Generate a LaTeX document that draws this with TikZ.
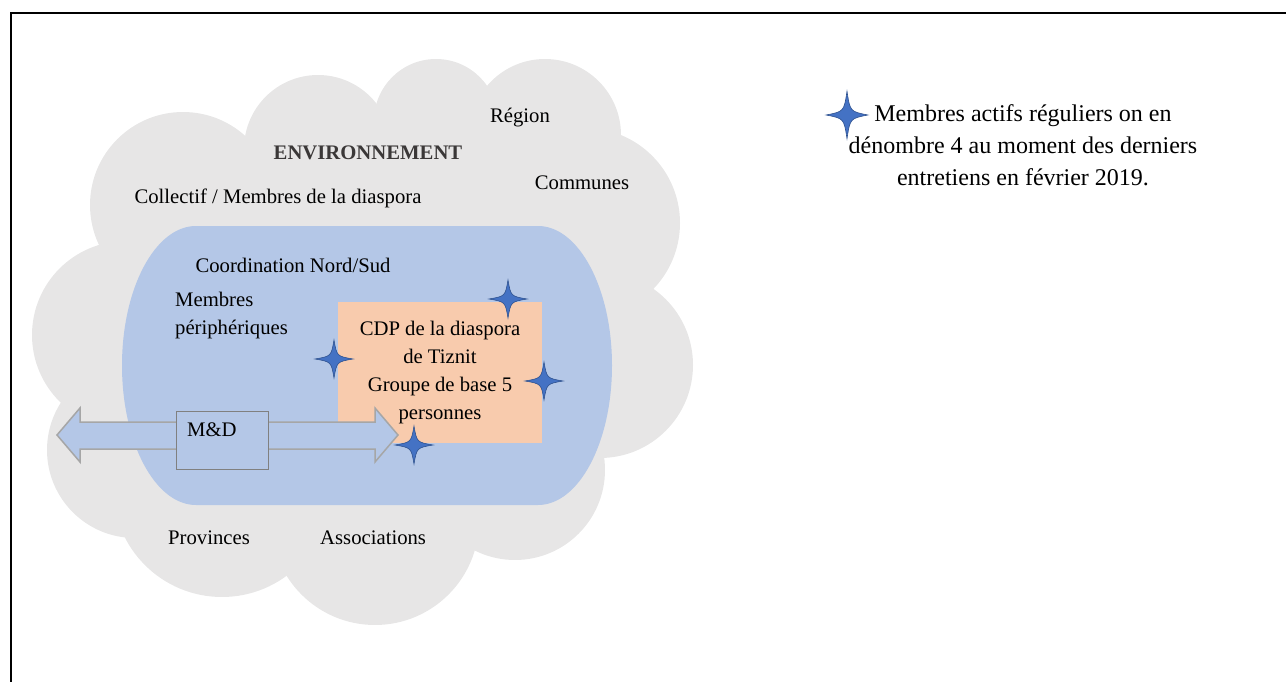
\documentclass[tikz,border=0pt]{standalone}
\usepackage{xcolor}
\usepackage{fontspec}
\setmainfont{Liberation Serif}
\usepackage{tikz}
\usetikzlibrary{positioning}

\definecolor{cloudgray}{HTML}{E7E6E6}
\definecolor{areablue}{HTML}{B4C7E7}
\definecolor{peach}{HTML}{F8CBAD}
\definecolor{starblue}{HTML}{4472C4}
\definecolor{staredge}{HTML}{2F528F}
\definecolor{envgray}{HTML}{3B3838}

\begin{document}
\begin{tikzpicture}[x=1pt,y=-1pt,
    cloud part/.style={fill=cloudgray},
    txt/.style={inner sep=0pt,font=\fontsize{20.7}{28}\selectfont},
    cdp box/.style={fill=peach,minimum width=204pt,minimum height=141pt,align=center,inner sep=0pt,font=\fontsize{20.7}{28}\selectfont},
    md box/.style={draw=black!50,line width=1pt,fill=areablue,minimum width=92pt,minimum height=58pt,inner sep=0pt},
    star mark/.pic={\path[fill=starblue,draw=staredge,line width=0.6pt]
      (0,19pt) .. controls (2.8pt,2.8pt) .. (19pt,0) .. controls (2.8pt,-2.8pt) .. (0,-19pt)
      .. controls (-2.8pt,-2.8pt) .. (-19pt,0) .. controls (-2.8pt,2.8pt) .. (0,19pt) -- cycle;}]
    \useasboundingbox (0,0) rectangle (1286,682);
    \draw[line width=2.4pt] (11,682) -- (11,13) -- (1286,13);

    % cloud
    \foreach \cx/\cy/\r in {183/205/93, 318/149/74, 436/121/62, 545/135/76, 585/223/95,
        600/365/93, 515/470/90, 375/521/104, 222/488/109, 135/450/88, 126/335/94}
      \fill[cloud part] (\cx,\cy) circle[radius=\r pt];
    \fill[cloud part] (360,340) ellipse[x radius=270pt,y radius=220pt];

    % inner area
    \fill[areablue] (196,226) -- (538,226) arc[start angle=90,end angle=-90,x radius=74pt,y radius=139.5pt]
      -- (196,505) arc[start angle=270,end angle=90,x radius=74pt,y radius=139.5pt] -- cycle;

    \node[cdp box] (cdp) at (440,372.5) {CDP de la diaspora\\de Tiznit\\Groupe de base 5\\personnes};

    % double arrow
    \draw[fill=areablue,draw=black!35,line width=1.5pt,line join=miter]
      (57,435) -- (80,408) -- (80,422) -- (375,422) -- (375,408) -- (398,435)
      -- (375,462) -- (375,449) -- (80,449) -- (80,462) -- cycle;
    \node[md box] (md) at (222,440) {};
    \node[txt,anchor=west] (mdtext) at (187,430) {M\&D};

    \node[txt,font=\fontsize{20.7}{28}\selectfont\bfseries,text=envgray] (env) at (368,153) {ENVIRONNEMENT};
    \node[txt] (region) at (520,118) {Région};
    \node[txt] (communes) at (582,183) {Communes};
    \node[txt] (collectif) at (278,198) {Collectif / Membres de la diaspora};
    \node[txt] (coord) at (293,265) {Coordination Nord/Sud};
    \node[txt,align=left,anchor=west] (periph) at (175,316) {Membres\\périphériques};
    \node[txt] (provinces) at (209,538) {Provinces};
    \node[txt,right=70pt of provinces] (assoc) {Associations};

    \node[txt,align=center,font=\fontsize{24}{32}\selectfont] (legend) at (1023,145)
      {Membres actifs réguliers on en\\dénombre 4 au moment des derniers\\entretiens en février 2019.};

    % stars
    \pic at (508,299) {star mark};
    \pic at (334,359) {star mark};
    \pic at (544,381) {star mark};
    \pic at (414,445) {star mark};
    \pic[xscale=1.1,yscale=1.25] at (847,115) {star mark};
\end{tikzpicture}
\end{document}
